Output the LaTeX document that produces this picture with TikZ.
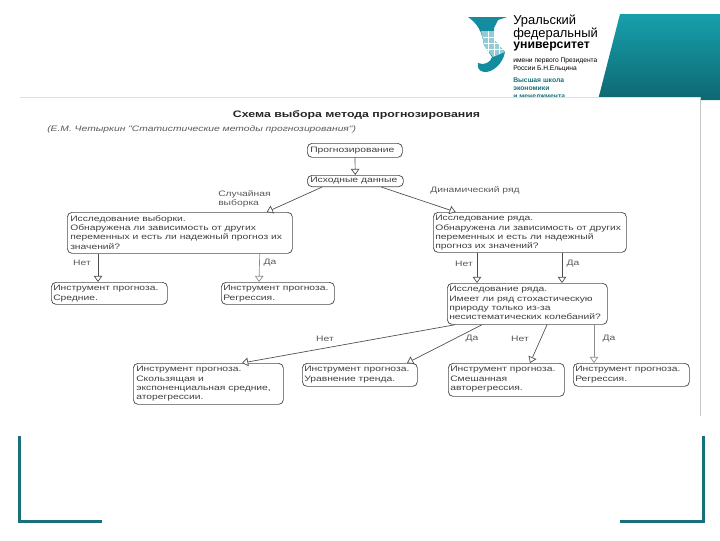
\documentclass[tikz,border=0pt]{standalone}
\usepackage{fontspec}
\usepackage{xcolor}
\usetikzlibrary{arrows.meta}
\setmainfont{Liberation Sans}
\newfontfamily\wideface[FakeStretch=1.31]{Liberation Sans}
\definecolor{tealdark}{RGB}{24,112,120}
\definecolor{teallogo}{RGB}{20,140,160}
\definecolor{tealtop}{RGB}{22,160,172}
\definecolor{tealbot}{RGB}{14,104,114}
\tikzset{
  box/.style={draw=black!70,line width=0.55pt,rounded corners=3.5pt,inner sep=0pt,anchor=north west},
  boxtext/.style={anchor=north west,inner sep=0pt,align=left,text=black!75,font=\wideface\fontsize{5.9}{7}\selectfont},
  lbl/.style={inner sep=0pt,align=left,text=black!65,font=\wideface\fontsize{5.9}{7}\selectfont},
  flow/.style={draw=black!70,line width=0.5pt,-{Triangle[open,fill=white,length=4.6pt,width=6.4pt]}},
  flowgray/.style={flow,draw=black!45},
  logotext/.style={anchor=north west,inner sep=0pt,align=left},
}
\begin{document}
\begin{tikzpicture}[x=0.75pt,y=0.75pt,yscale=-1,xscale=1]
\useasboundingbox (0,0) rectangle (720,540);

%Shape: Band
\shade [top color=tealtop,bottom color=tealbot] (620,14) -- (720,14) -- (720,100) -- (598,100) -- cycle ;
%Shape: Logo
\fill [teallogo] (468,17) -- (507,17) -- (498,20) -- (494,28) -- (494,40) -- (505,52) .. controls (503,64) and (492,73) .. (484,72) .. controls (479,71) and (477,68) .. (478,63) .. controls (484,66) and (491,62) .. (492,57) -- (484,45) .. controls (482,32) and (478,24) .. cycle ;
\fill [teallogo!45] (481,31) -- (494,31) -- (494,40) -- (505,52) -- (493,57) -- (484,45) -- cycle ;
\draw [white,line width=0.3pt] (483,37) -- (496,37) (484,43) -- (500,43) (486,49) -- (503,49) (488,31) -- (488,52) (494,31) -- (494,56) (499,43) -- (499,54) ;

% Text Node
\node (unione) at (513,15) [logotext,font=\fontsize{9.7}{9.7}\selectfont] {Уральский};
\node (unitwo) at (513,28) [logotext,font=\fontsize{9.7}{9.7}\selectfont] {федеральный};
\node (unithree) at (513,41.5) [logotext,font=\bfseries\fontsize{9.2}{9.2}\selectfont] {университет};
\node (unifour) at (513,58) [logotext,font=\fontsize{5}{6}\selectfont] {имени первого Президента\\России Б.Н.Ельцина};
\node (school) at (513,77.5) [logotext,text=tealdark,font=\bfseries\fontsize{5.1}{6}\selectfont] {Высшая школа\\экономики\\и менеджмента};

%Shape: Panel
\fill [white] (0,97) rectangle (700,416) ;
\draw [black!12,line width=0.5pt] (20,97) -- (700,97) ;
\draw [black!22,line width=0.5pt] (700,97) -- (700,416) ;

%Shape: Corners
\draw [tealdark,line width=2.25pt] (19,436) -- (19,521.5) -- (102,521.5) ;
\draw [tealdark,line width=2.25pt] (620,521.5) -- (703,521.5) -- (703,436) ;

% Text Node
\node (title) at (356.5,115) [inner sep=0pt,text=black!85,font=\bfseries\wideface\fontsize{7.05}{8}\selectfont] {Схема выбора метода прогнозирования};
\node (source) at (47,126) [anchor=north west,inner sep=0pt,text=black!65,font=\itshape\wideface\fontsize{5.9}{7}\selectfont] {(Е.М. Четыркин "Статистические методы прогнозирования")};

%Shape: Rectangle
\node (forecast) at (307,143) [box,minimum width=71.25pt,minimum height=10.5pt] {};
\node (source data) at (307,175) [box,minimum width=72pt,minimum height=8.5pt] {};
\node (sample) at (67,212) [box,minimum width=168.75pt,minimum height=30.75pt] {};
\node (series) at (433,212) [box,minimum width=144.75pt,minimum height=30pt] {};
\node (means) at (51,282) [box,minimum width=87pt,minimum height=16.5pt] {};
\node (regress) at (221,282) [box,minimum width=84.75pt,minimum height=16.5pt] {};
\node (stoch) at (447,283) [box,minimum width=120pt,minimum height=30.75pt] {};
\node (moving) at (133,363) [box,minimum width=112.5pt,minimum height=30.75pt] {};
\node (trend) at (302,363) [box,minimum width=86.25pt,minimum height=17.25pt] {};
\node (mixed) at (448,363) [box,minimum width=87pt,minimum height=24.75pt] {};
\node (regresstwo) at (573,363) [box,minimum width=87pt,minimum height=17.25pt] {};

% Text Node
\node (forecast text) at (310,146.5) [boxtext] {Прогнозирование};
\node (source text) at (310,177) [boxtext] {Исходные данные};
\node (sample text) at (70,215) [boxtext] {Исследование выборки.\\Обнаружена ли зависимость от других\\переменных и есть ли надежный прогноз их\\значений?};
\node (series text) at (435,215) [boxtext] {Исследование ряда.\\Обнаружена ли зависимость от других\\переменных и есть ли надежный\\прогноз их значений?};
\node (means text) at (53,285) [boxtext] {Инструмент прогноза.\\Средние.};
\node (regress text) at (223,285) [boxtext] {Инструмент прогноза.\\Регрессия.};
\node (stoch text) at (449,286) [boxtext] {Исследование ряда.\\Имеет ли ряд стохастическую\\природу только из-за\\несистематических колебаний?};
\node (moving text) at (136,366) [boxtext] {Инструмент прогноза.\\Скользящая и\\экспоненциальная средние,\\аторегрессии.};
\node (trend text) at (304,366) [boxtext] {Инструмент прогноза.\\Уравнение тренда.};
\node (mixed text) at (450,366) [boxtext] {Инструмент прогноза.\\Смешанная\\авторегрессия.};
\node (regresstwo text) at (575,366) [boxtext] {Инструмент прогноза.\\Регрессия.};

%Straight Lines
\draw [flow] (forecast) -- (source data) ;
\draw [flow] ([xshift=-25pt]source data.south) -- ([xshift=-19.5pt]sample.north east) ;
\draw [flow] ([xshift=19.5pt]source data.south) -- ([xshift=17pt]series.north west) ;
\draw [flow] ([xshift=23.25pt]sample.south west) -- ([xshift=35.25pt]means.north west) ;
\draw [flowgray] ([xshift=-24.75pt]sample.south east) -- ([xshift=28.5pt]regress.north west) ;
\draw [flow] ([xshift=33pt]series.south west) -- ([xshift=22.5pt]stoch.north west) ;
\draw [flow] ([xshift=96.75pt]series.south west) -- ([xshift=86.25pt]stoch.north west) ;
\draw [flow] ([xshift=6pt]stoch.south west) -- ([xshift=81.75pt]moving.north west) ;
\draw [flow] ([xshift=26.25pt]stoch.south west) -- ([xshift=78.75pt]trend.north west) ;
\draw [flow] ([xshift=75pt]stoch.south west) -- ([xshift=61.5pt]mixed.north west) ;
\draw [flowgray] ([xshift=110.25pt]stoch.south west) -- ([xshift=15.75pt]regresstwo.north west) ;

% Text Node
\node (sample label) at (218,190) [lbl,anchor=north west] {Случайная\\выборка};
\node (series label) at (430,190) [lbl,anchor=west] {Динамический ряд};
\node (no one) at (82,263) [lbl] {Нет};
\node (yes one) at (270,263) [lbl] {Да};
\node (no two) at (464,264) [lbl] {Нет};
\node (yes two) at (573,264) [lbl] {Да};
\node (no three) at (325,339) [lbl] {Нет};
\node (yes three) at (472,339) [lbl] {Да};
\node (no four) at (520,339) [lbl] {Нет};
\node (yes four) at (609,339) [lbl] {Да};

\end{tikzpicture}
\end{document}
